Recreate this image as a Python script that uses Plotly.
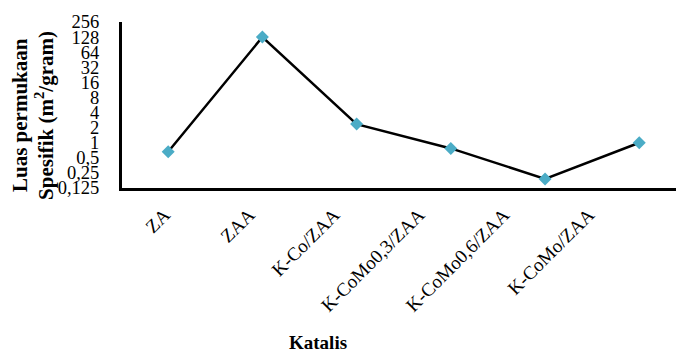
import plotly.graph_objects as go

# Catalyst samples and their specific surface area (m²/g)
katalis = ["ZA", "ZAA", "K-Co/ZAA", "K-CoMo0,3/ZAA", "K-CoMo0,6/ZAA", "K-CoMo/ZAA"]
luas_permukaan = [0.66, 128, 2.35, 0.77, 0.19, 1.0]

# Log2 tick marks with comma decimal labels
tick_vals = [0.125, 0.25, 0.5, 1, 2, 4, 8, 16, 32, 64, 128, 256]
tick_text = ["0,125", "0,25", "0,5", "1", "2", "4", "8", "16", "32", "64", "128", "256"]

serif = "Liberation Serif"
idx = list(range(len(katalis)))

fig = go.Figure()
fig.add_trace(go.Scatter(
    x=idx,
    y=luas_permukaan,
    mode="lines+markers",
    line=dict(color="black", width=2.5),
    marker=dict(symbol="diamond", size=10, color="#4BACC6",
                line=dict(width=0)),
    showlegend=False,
    cliponaxis=False,
))
# invisible carrier trace for the category label axis
fig.add_trace(go.Scatter(
    x=idx, y=luas_permukaan, xaxis="x2", mode="markers",
    marker=dict(opacity=0), showlegend=False, hoverinfo="skip",
))

fig.update_layout(
    width=676, height=354,
    margin=dict(l=122, r=0, t=22, b=166),
    paper_bgcolor="white", plot_bgcolor="white",
    font=dict(family=serif, color="black", size=18),
    xaxis=dict(
        range=[-0.49, 5.39],
        tickvals=idx,
        showticklabels=False,
        showgrid=False, zeroline=False,
        showline=True, linecolor="black", linewidth=3,
        ticks="",
    ),
    # category labels, spaced a little tighter than the points
    xaxis2=dict(
        overlaying="x", side="bottom", anchor="y",
        range=[-0.50, 6.03],
        tickvals=idx,
        ticktext=katalis,
        tickangle=-45,
        showgrid=False, zeroline=False, showline=False,
        ticks="", ticklabelstandoff=11,
        tickfont=dict(family=serif, size=19, color="black"),
    ),
    yaxis=dict(
        type="log",
        range=[-0.903, 2.408],
        tickvals=tick_vals,
        ticktext=tick_text,
        showgrid=False, zeroline=False,
        showline=True, linecolor="black", linewidth=3,
        ticks="", ticklabelstandoff=16,
        tickfont=dict(family=serif, size=18.5, color="black"),
    ),
    annotations=[
        dict(text="<b>Luas permukaan</b>",
             textangle=-90, xref="paper", yref="paper",
             x=-0.184, y=0.44, xanchor="center", yanchor="middle",
             showarrow=False, font=dict(family=serif, size=21, color="black")),
        dict(text="<b>Spesifik (m<sup>2</sup>/gram)</b>",
             textangle=-90, xref="paper", yref="paper",
             x=-0.139, y=0.44, xanchor="center", yanchor="middle",
             showarrow=False, font=dict(family=serif, size=21, color="black")),
        dict(text="<b>Katalis</b>", xref="paper", yref="paper",
             x=0.354, y=-0.93, xanchor="center", yanchor="middle",
             showarrow=False, font=dict(family=serif, size=19, color="black")),
    ],
)

fig.write_html("out.html")
